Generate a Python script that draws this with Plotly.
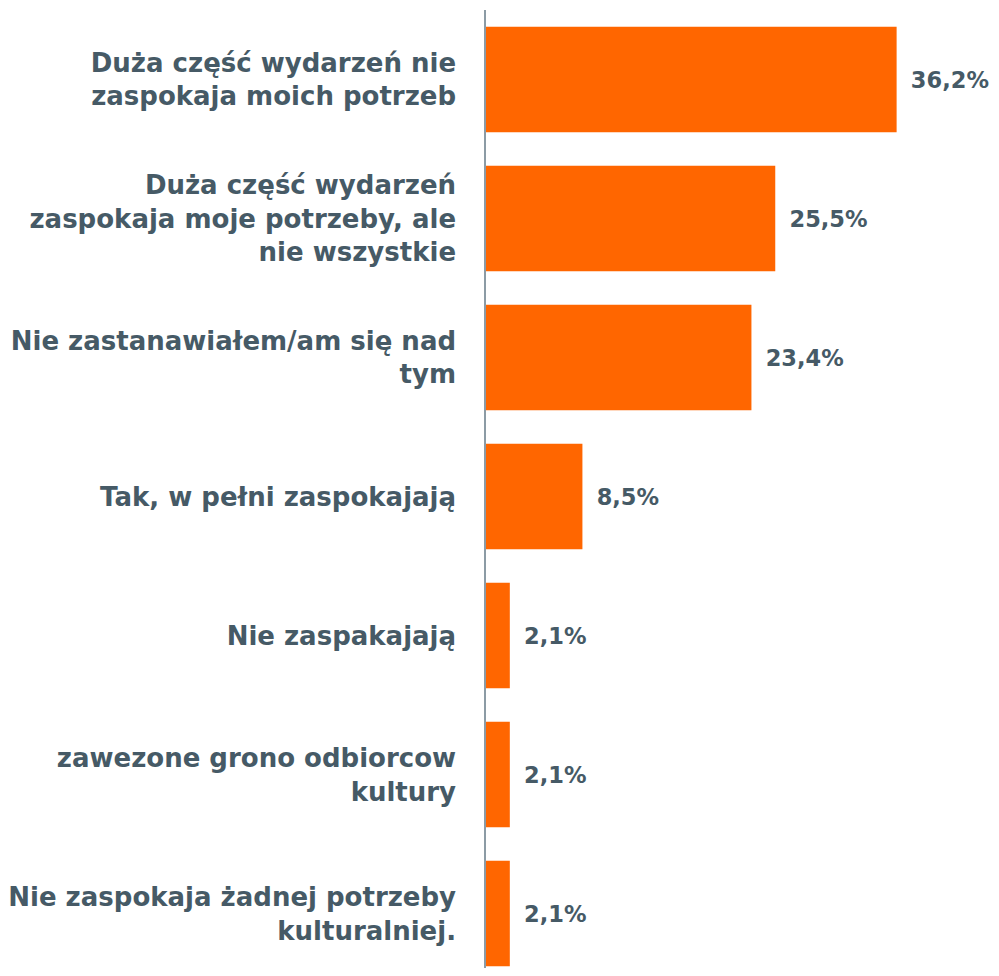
import plotly.graph_objects as go

categories = [
    "Duża część wydarzeń nie<br>zaspokaja moich potrzeb",
    "Duża część wydarzeń<br>zaspokaja moje potrzeby, ale<br>nie wszystkie",
    "Nie zastanawiałem/am się nad<br>tym",
    "Tak, w pełni zaspokajają",
    "Nie zaspakajają",
    "zawezone grono odbiorcow<br>kultury",
    "Nie zaspokaja żadnej potrzeby<br>kulturalniej.",
]
values = [36.2, 25.5, 23.4, 8.5, 2.1, 2.1, 2.1]

TEXT_COLOUR = "#465A66"
BAR_COLOUR = "#FF6600"
FONT = "DejaVu Sans"

# en space in front pushes the value label away from the bar end
labels = ["\u2002" + f"{v:.1f}%".replace(".", ",") for v in values]

fig = go.Figure()
fig.add_trace(go.Bar(
    y=categories,
    x=values,
    orientation="h",
    marker=dict(color=BAR_COLOUR, line=dict(width=0)),
    text=labels,
    textposition="outside",
    textfont=dict(family=FONT, size=22.5, color=TEXT_COLOUR, weight="bold"),
    cliponaxis=False,
    width=0.76,
))

# page body has an 8px margin all round, so keep the page at exactly 999x976
fig.update_layout(
    width=983,
    height=960,
    margin=dict(l=475, r=0, t=2, b=0),
    paper_bgcolor="white",
    plot_bgcolor="white",
    showlegend=False,
    font=dict(family=FONT, color=TEXT_COLOUR),
    xaxis=dict(range=[0, 44.52], visible=False, showgrid=False, zeroline=False),
    yaxis=dict(
        range=[6.392, -0.5],
        showline=True,
        linecolor="#8C9BA5",
        linewidth=1.5,
        showgrid=False,
        ticks="",
        ticklabelstandoff=23,
        tickfont=dict(family=FONT, size=26, color=TEXT_COLOUR, weight="bold"),
    ),
)

fig.write_html("out.html")
